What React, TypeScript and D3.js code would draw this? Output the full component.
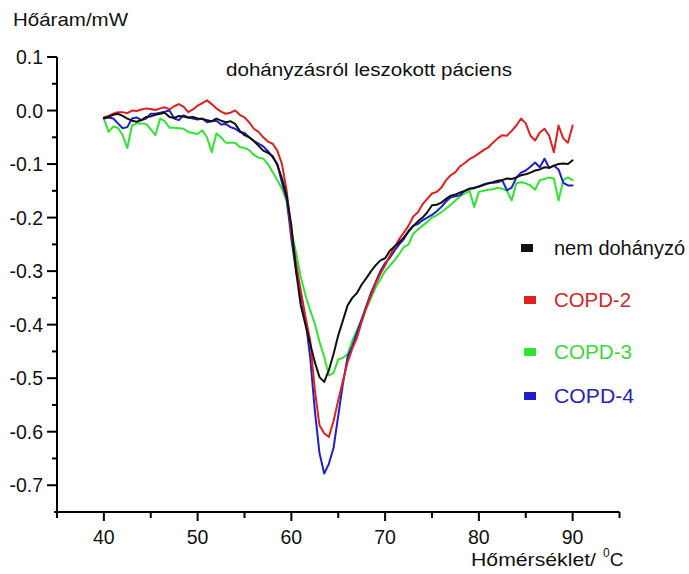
import React from "react";
import * as d3 from "d3";

// Temperature grid (°C) shared by all four DSC traces
const temperatures = [
  40, 40.5, 41, 41.5, 42, 42.5, 43, 43.5, 44, 44.5, 45, 45.5, 46, 46.5, 47, 47.5, 48, 48.5, 49, 49.5,
  50, 50.5, 51, 51.5, 52, 52.5, 53, 53.5, 54, 54.5, 55, 55.5, 56, 56.5, 57, 57.5, 58, 58.5, 59, 59.5,
  60, 60.5, 61, 61.5, 62, 62.5, 63, 63.5, 64, 64.5, 65, 65.5, 66, 66.5, 67, 67.5, 68, 68.5, 69, 69.5,
  70, 70.5, 71, 71.5, 72, 72.5, 73, 73.5, 74, 74.5, 75, 75.5, 76, 76.5, 77, 77.5, 78, 78.5, 79, 79.5,
  80, 80.5, 81, 81.5, 82, 82.5, 83, 83.5, 84, 84.5, 85, 85.5, 86, 86.5, 87, 87.5, 88, 88.5, 89, 89.5,
  90,
];

// Heat flow (mW) per group
const nemDohanyzo = [
  -0.014, -0.012, -0.008, -0.006, -0.010, -0.015, -0.019, -0.021, -0.018, -0.012,
  -0.011, -0.008, -0.006, -0.004, -0.012, -0.014, -0.010, -0.011, -0.013, -0.012,
  -0.015, -0.016, -0.018, -0.020, -0.015, -0.019, -0.022, -0.020, -0.025, -0.038,
  -0.046, -0.050, -0.057, -0.066, -0.075, -0.079, -0.085, -0.102, -0.127, -0.160,
  -0.215, -0.300, -0.364, -0.400, -0.435, -0.470, -0.498, -0.507, -0.485, -0.455,
  -0.420, -0.392, -0.364, -0.350, -0.341, -0.325, -0.313, -0.300, -0.289, -0.280,
  -0.276, -0.262, -0.254, -0.246, -0.237, -0.226, -0.216, -0.207, -0.200, -0.190,
  -0.177, -0.176, -0.172, -0.165, -0.159, -0.157, -0.153, -0.150, -0.146, -0.145,
  -0.142, -0.139, -0.136, -0.134, -0.131, -0.130, -0.127, -0.128, -0.125, -0.121,
  -0.119, -0.116, -0.112, -0.110, -0.106, -0.107, -0.103, -0.100, -0.099, -0.100,
  -0.093,
];

const copd2 = [
  -0.013, -0.010, -0.006, -0.003, -0.003, -0.005, 0.000, -0.001, 0.002, 0.004,
  0.003, 0.001, 0.004, 0.006, 0.002, 0.008, 0.012, 0.007, -0.003, 0.002,
  0.009, 0.014, 0.019, 0.012, 0.004, -0.002, -0.006, -0.004, 0.000, -0.008,
  -0.013, -0.022, -0.034, -0.040, -0.050, -0.058, -0.062, -0.075, -0.100, -0.150,
  -0.228, -0.285, -0.336, -0.385, -0.429, -0.522, -0.588, -0.603, -0.610, -0.580,
  -0.541, -0.505, -0.470, -0.445, -0.424, -0.395, -0.368, -0.345, -0.323, -0.305,
  -0.289, -0.271, -0.256, -0.240, -0.228, -0.215, -0.198, -0.190, -0.175, -0.165,
  -0.155, -0.152, -0.144, -0.130, -0.121, -0.115, -0.104, -0.098, -0.091, -0.086,
  -0.080, -0.074, -0.069, -0.060, -0.052, -0.046, -0.047, -0.038, -0.028, -0.015,
  -0.024, -0.047, -0.056, -0.041, -0.034, -0.047, -0.078, -0.028, -0.052, -0.060,
  -0.028,
];

const copd3 = [
  -0.015, -0.040, -0.030, -0.032, -0.046, -0.070, -0.028, -0.024, -0.024, -0.025,
  -0.035, -0.046, -0.015, -0.020, -0.032, -0.032, -0.033, -0.034, -0.040, -0.042,
  -0.044, -0.037, -0.050, -0.078, -0.043, -0.050, -0.060, -0.060, -0.060, -0.068,
  -0.070, -0.074, -0.083, -0.088, -0.090, -0.100, -0.115, -0.130, -0.146, -0.170,
  -0.225, -0.265, -0.310, -0.345, -0.373, -0.398, -0.432, -0.460, -0.495, -0.490,
  -0.465, -0.462, -0.455, -0.430, -0.410, -0.390, -0.370, -0.350, -0.330, -0.315,
  -0.300, -0.290, -0.280, -0.268, -0.255, -0.250, -0.230, -0.222, -0.215, -0.208,
  -0.200, -0.196, -0.190, -0.183, -0.176, -0.168, -0.160, -0.155, -0.150, -0.180,
  -0.152, -0.150, -0.148, -0.147, -0.144, -0.146, -0.150, -0.168, -0.136, -0.134,
  -0.136, -0.140, -0.148, -0.130, -0.128, -0.125, -0.127, -0.168, -0.130, -0.125,
  -0.130,
];

const copd4 = [
  -0.015, -0.013, -0.015, -0.024, -0.033, -0.031, -0.015, -0.013, -0.018, -0.015,
  -0.006, -0.006, -0.004, -0.002, 0.000, -0.015, -0.018, -0.009, -0.013, -0.015,
  -0.017, -0.015, -0.022, -0.020, -0.019, -0.026, -0.025, -0.031, -0.034, -0.040,
  -0.042, -0.050, -0.057, -0.062, -0.067, -0.076, -0.087, -0.100, -0.135, -0.165,
  -0.240, -0.300, -0.345, -0.390, -0.460, -0.560, -0.640, -0.678, -0.660, -0.630,
  -0.570, -0.510, -0.460, -0.440, -0.415, -0.390, -0.365, -0.340, -0.320, -0.300,
  -0.285, -0.275, -0.262, -0.250, -0.240, -0.225, -0.215, -0.212, -0.205, -0.200,
  -0.195, -0.188, -0.180, -0.170, -0.162, -0.160, -0.158, -0.150, -0.146, -0.144,
  -0.142, -0.138, -0.136, -0.135, -0.134, -0.131, -0.149, -0.144, -0.125, -0.116,
  -0.112, -0.105, -0.097, -0.106, -0.090, -0.107, -0.103, -0.110, -0.135, -0.140,
  -0.140,
];

const seriesNames = ["nem dohányzó", "COPD-2", "COPD-3", "COPD-4"];
const seriesValues = [nemDohanyzo, copd2, copd3, copd4];
const lineColors = ["#111111", "#e0201e", "#2fe52f", "#1e1ecf"];
const labelColors = ["#111111", "#d0282a", "#3cd83c", "#2424b8"];

const xMajorTicks = [40, 50, 60, 70, 80, 90];
const xMinorTicks = [35, 45, 55, 65, 75, 85, 95];
const yMajorTicks = [0.1, 0, -0.1, -0.2, -0.3, -0.4, -0.5, -0.6, -0.7];
const yMinorTicks = [0.05, -0.05, -0.15, -0.25, -0.35, -0.45, -0.55, -0.65];

const W = 689;
const H = 574;
const FONT = "'Liberation Sans', Arial, sans-serif";

export default function App() {
  const x = d3.scaleLinear().domain([35, 95]).range([57, 619.5]);
  const y = d3.scaleLinear().domain([-0.75, 0.1]).range([512, 57]);

  const line = d3
    .line<[number, number]>()
    .x((d) => x(d[0]))
    .y((d) => y(d[1]));

  const legendY = [248, 300, 352, 396];
  const legendTextWidth = [131, 77, 78, 80];
  const drawOrder = [2, 3, 1, 0];

  return (
    <svg
      width={W}
      height={H}
      style={{ position: "absolute", left: 0, top: 0, background: "#fff" }}
      fontFamily={FONT}
    >
      <rect x={0} y={0} width={W} height={H} fill="#fff" />

      {/* traces */}
      <g fill="none" strokeWidth={2} strokeLinejoin="round" strokeLinecap="round">
        {drawOrder.map((i) => (
          <path
            key={seriesNames[i]}
            d={line(temperatures.map((t, k) => [t, seriesValues[i][k]]) as [number, number][]) || ""}
            stroke={lineColors[i]}
          />
        ))}
      </g>

      {/* y axis */}
      <g stroke="#000" strokeWidth={2}>
        <line x1={x(35)} x2={x(35)} y1={y(0.1)} y2={y(-0.75)} />
        {yMajorTicks.map((v) => (
          <line key={"ym" + v} x1={x(35) - 10} x2={x(35)} y1={y(v)} y2={y(v)} />
        ))}
        {yMinorTicks.map((v) => (
          <line key={"yn" + v} x1={x(35) - 5} x2={x(35)} y1={y(v)} y2={y(v)} />
        ))}
      </g>
      <g fontSize={19.5} textAnchor="end" fill="#111">
        {yMajorTicks.map((v) => (
          <text key={"yl" + v} x={43} y={y(v) + 7}>
            {d3.format(".1f")(v).replace("−", "-")}
          </text>
        ))}
      </g>

      {/* x axis */}
      <g stroke="#000" strokeWidth={2}>
        <line x1={x(35) - 3} x2={x(95)} y1={y(-0.75)} y2={y(-0.75)} />
        {xMajorTicks.map((t) => (
          <line key={"xm" + t} x1={x(t)} x2={x(t)} y1={y(-0.75)} y2={y(-0.75) + 9} />
        ))}
        {xMinorTicks.map((t) => (
          <line key={"xn" + t} x1={x(t)} x2={x(t)} y1={y(-0.75)} y2={y(-0.75) + 6} />
        ))}
      </g>
      <g fontSize={19.5} textAnchor="middle" fill="#111">
        {xMajorTicks.map((t) => (
          <text key={"xl" + t} x={x(t)} y={544}>
            {t}
          </text>
        ))}
      </g>

      {/* axis titles */}
      <text x={13} y={26} fontSize={19} fill="#111" textLength={115} lengthAdjust="spacingAndGlyphs">
        Hőáram/mW
      </text>
      <text x={471} y={566} fontSize={19} fill="#111">
        <tspan textLength={125} lengthAdjust="spacingAndGlyphs">Hőmérséklet/</tspan>
        <tspan dx={7} dy={-9} fontSize={12}>0</tspan>
        <tspan dy={9}>C</tspan>
      </text>

      {/* chart title */}
      <text x={226} y={76} fontSize={18} fill="#111" textLength={286} lengthAdjust="spacingAndGlyphs">
        dohányzásról leszokott páciens
      </text>

      {/* legend */}
      {seriesNames.map((name, i) => (
        <g key={"lg" + name}>
          <rect x={521 + (i > 0 ? 3 : 0)} y={legendY[i] - 4} width={12} height={8} fill={lineColors[i]} />
          <text
            x={554}
            y={legendY[i] + 7}
            fontSize={19.5}
            fill={labelColors[i]}
            textLength={legendTextWidth[i]}
            lengthAdjust="spacingAndGlyphs"
          >
            {name}
          </text>
        </g>
      ))}
    </svg>
  );
}
